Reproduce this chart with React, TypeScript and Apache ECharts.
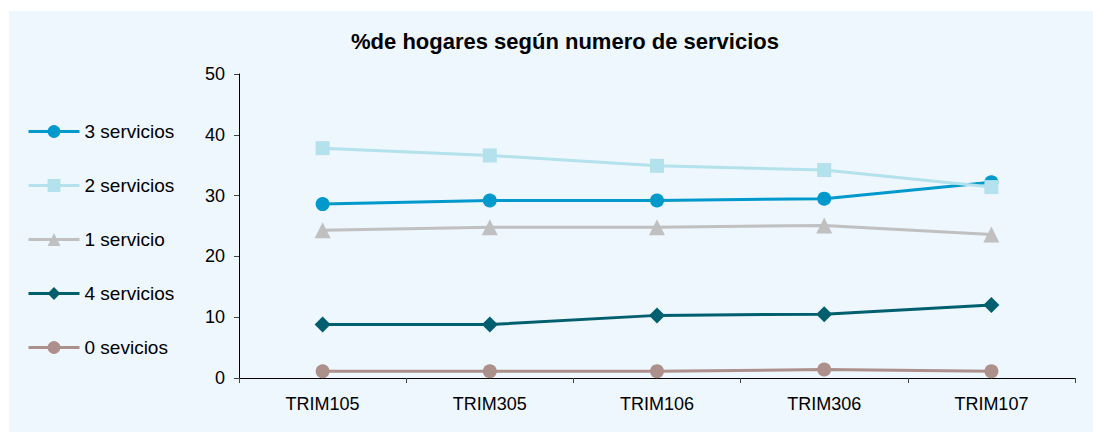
import React, { useEffect, useRef } from "react";
import * as echarts from "echarts";

const categories = ["TRIM105", "TRIM305", "TRIM106", "TRIM306", "TRIM107"];
const tres = [28.6, 29.2, 29.2, 29.5, 32.2];
const dos = [37.8, 36.6, 34.9, 34.2, 31.4];
const uno = [24.3, 24.8, 24.8, 25.1, 23.6];
const cuatro = [8.8, 8.8, 10.3, 10.5, 12.0];
const cero = [1.1, 1.1, 1.1, 1.4, 1.1];

const font = "Liberation Sans, Arial, sans-serif";

export default function App() {
  const ref = useRef<HTMLDivElement>(null);
  useEffect(() => {
    if (!ref.current) return;
    const chart = echarts.init(ref.current, null, { renderer: "svg" });
    const mk = (name: string, data: number[], color: string, symbol: string, size: number) => ({
      name,
      type: "line",
      data,
      symbol,
      symbolSize: size,
      showSymbol: true,
      lineStyle: { color, width: 3 },
      itemStyle: { color },
      emphasis: { disabled: true },
    });
    chart.setOption({
      animation: false,
      backgroundColor: "#ffffff",
      textStyle: { fontFamily: font },
      graphic: [
        {
          type: "rect",
          z: -10,
          silent: true,
          shape: { x: 9, y: 11, width: 1084, height: 421 },
          style: { fill: "#EEF6FE" },
        },
      ],
      title: {
        text: "%de hogares según numero de servicios",
        left: 560,
        textAlign: "center",
        top: 25,
        textStyle: { fontFamily: font, fontWeight: "bold", fontSize: 22, color: "#000" },
      },
      legend: {
        orient: "vertical",
        left: 22,
        top: 117,
        itemWidth: 51,
        itemHeight: 16,
        itemGap: 35,
        lineStyle: { width: 3 },
        textStyle: { fontFamily: font, fontSize: 19, color: "#000" },
        data: ["3 servicios", "2 servicios", "1 servicio", "4 servicios", "0 sevicios"],
      },
      grid: { left: 239, right: 18, top: 74, bottom: 54, containLabel: false },
      xAxis: {
        type: "category",
        data: categories,
        boundaryGap: true,
        axisLine: { lineStyle: { color: "#000", width: 1 } },
        axisTick: { show: true, length: 5, lineStyle: { color: "#444" } },
        axisLabel: { fontFamily: font, fontSize: 18, color: "#000", margin: 17 },
        splitLine: { show: false },
      },
      yAxis: {
        type: "value",
        min: 0,
        max: 50,
        interval: 10,
        axisLine: { show: true, lineStyle: { color: "#000", width: 1 } },
        axisTick: { show: true, length: 5, lineStyle: { color: "#444" } },
        axisLabel: { fontFamily: font, fontSize: 18, color: "#000", margin: 14 },
        splitLine: { show: false },
      },
      series: [
        mk("3 servicios", tres, "#0099CC", "circle", 14),
        mk("2 servicios", dos, "#B3E1EC", "rect", 14),
        mk("1 servicio", uno, "#C0C0C0", "triangle", 16),
        mk("4 servicios", cuatro, "#005F6E", "diamond", 16),
        mk("0 sevicios", cero, "#AD908C", "circle", 14),
      ],
    });
    return () => chart.dispose();
  }, []);
  return (
    <div
      ref={ref}
      style={{ position: "absolute", left: 0, top: 0, width: 1093, height: 432 }}
    />
  );
}
